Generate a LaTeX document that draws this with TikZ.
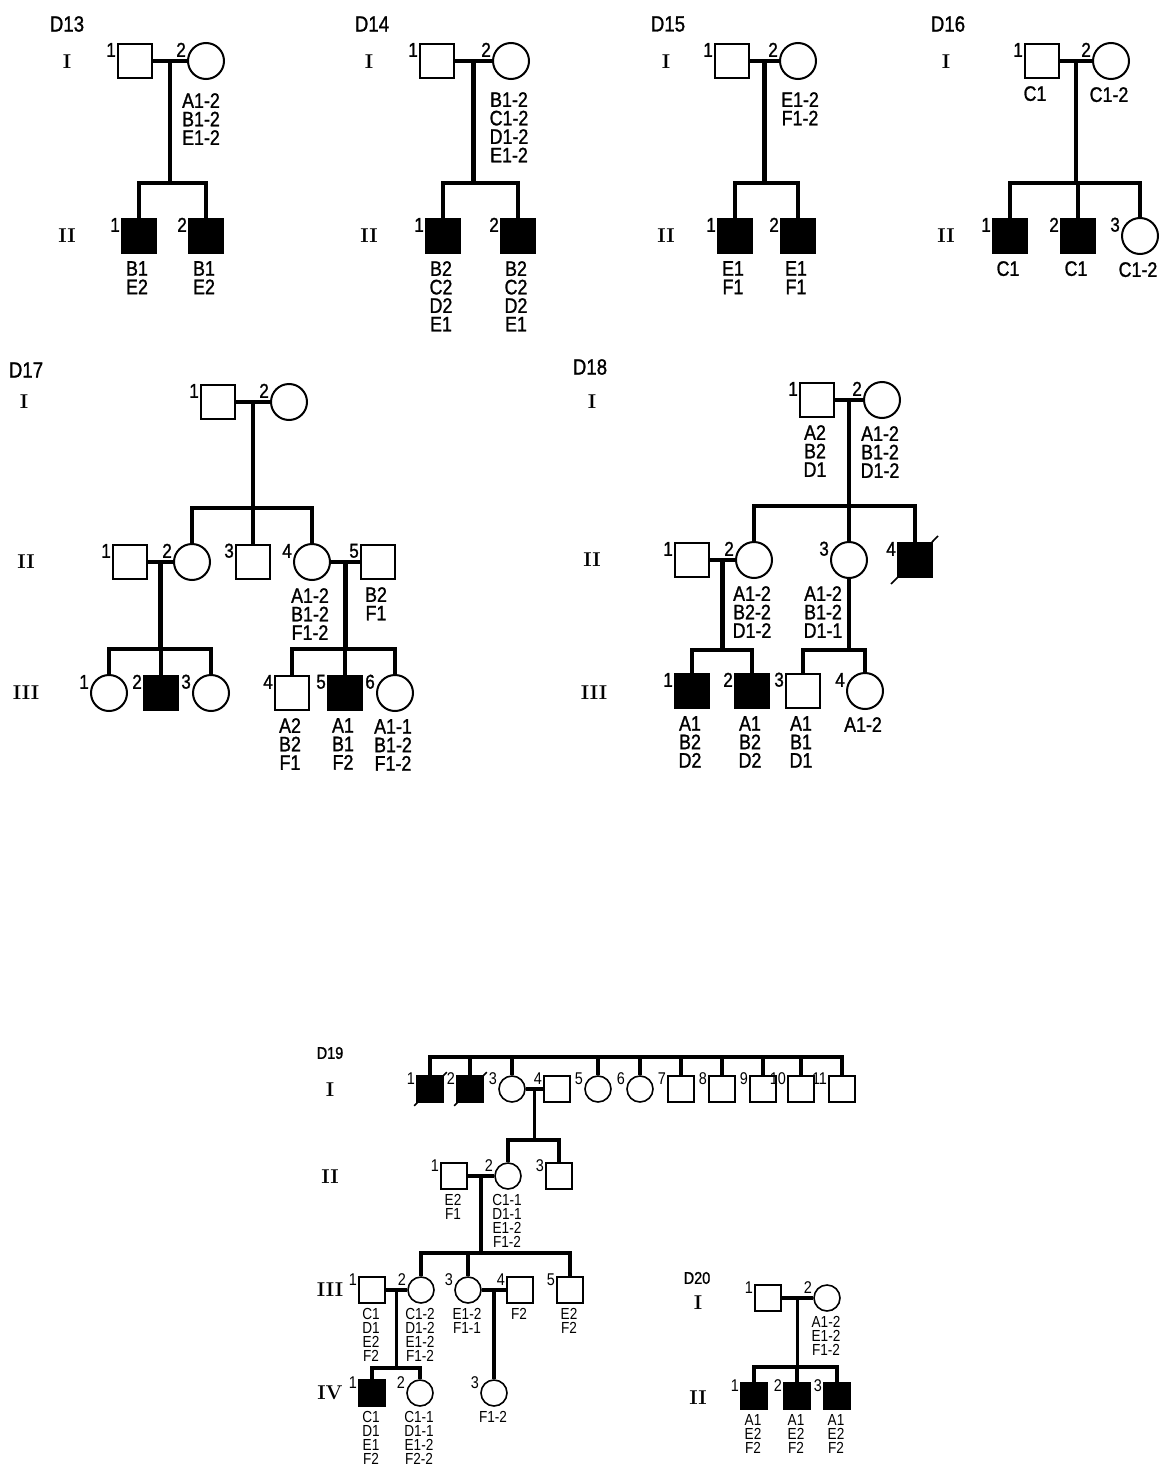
\documentclass[tikz,border=0pt]{standalone}
\usepackage{fontspec}
\usetikzlibrary{calc}
\newfontfamily\gtfont[FakeStretch=0.85,FakeBold=1.2]{Liberation Sans}
\newfontfamily\sgtfont[FakeStretch=0.85]{Liberation Sans}

\begin{document}
\begin{tikzpicture}[x=1pt, y=-1pt,
  ind/.style={draw, line width=2pt, inner sep=0pt, fill=white},
  male/.style={ind, rectangle, minimum size=34pt},
  female/.style={ind, circle, minimum size=36pt},
  aff/.style={fill=black},
  sm/.style={minimum size=26pt, line width=1.6pt},
  rel/.style={line width=4.2pt},
  srel/.style={line width=3.4pt},
  dead/.style={line width=1.6pt},
  num/.style={font=\gtfont\fontsize{20}{20}\selectfont, inner sep=0pt},
  snum/.style={font=\sgtfont\fontsize{17}{17}\selectfont, inner sep=0pt},
  n/.style={label={[num,anchor=south east,xshift=-1pt,yshift=4pt]west:#1}},
  sn/.style={label={[snum,anchor=south east,xshift=-1pt,yshift=4pt]west:#1}},
  gen/.style={font=\gtfont\fontsize{21}{18.5}\selectfont, align=center, inner sep=0pt, label distance=7pt, xshift=-2pt},
  sgen/.style={font=\sgtfont\fontsize{16}{14.2}\selectfont, align=center, inner sep=0pt, label distance=4pt, xshift=-1pt},
  g/.style={label={[gen]below:{#1}}},
  sg/.style={label={[sgen]below:{#1}}},
  title/.style={font=\gtfont\fontsize{22}{22}\selectfont, inner sep=0pt},
  stitle/.style={font=\gtfont\fontsize{17}{17}\selectfont, inner sep=0pt},
  gnr/.style={font=\bfseries\fontsize{20}{20}\selectfont, inner sep=0pt}
]
\useasboundingbox (0,0) rectangle (1159,1469);

% D13
\node[title] (d13) at (67,24) {D13};
\node[gnr] (d13r1) at (67,62) {I};
\node[gnr] (d13r2) at (67,236) {II};
\node[male, n=1] (d13i1) at (135,61) {};
\node[female, n=2, label={[gen,label distance=13pt,xshift=-3pt]below:{A1-2\\B1-2\\E1-2}}] (d13i2) at (206,61) {};
\node[male, aff, n=1, g={B1\\E2}] (d13ii1) at (139,236) {};
\node[male, aff, n=2, g={B1\\E2}] (d13ii2) at (206,236) {};
\coordinate (d13s) at (0,183);
\draw[rel] (d13i1) -- coordinate (d13m) (d13i2);
\draw[rel] (d13m) -- (d13m |- d13s);
\draw[rel] (d13ii1) -- (d13ii1 |- d13s) -- (d13ii2 |- d13s) -- (d13ii2);

% D14
\node[title] (d14) at (372,24) {D14};
\node[gnr] (d14r1) at (369,62) {I};
\node[gnr] (d14r2) at (369,236) {II};
\node[male, n=1] (d14i1) at (437,61) {};
\node[female, n=2, label={[gen,label distance=12pt]below:{B1-2\\C1-2\\D1-2\\E1-2}}] (d14i2) at (511,61) {};
\node[male, aff, n=1, g={B2\\C2\\D2\\E1}] (d14ii1) at (443,236) {};
\node[male, aff, n=2, g={B2\\C2\\D2\\E1}] (d14ii2) at (518,236) {};
\coordinate (d14s) at (0,183);
\draw[rel] (d14i1) -- coordinate (d14m) (d14i2);
\draw[rel] (d14m) -- (d14m |- d14s);
\draw[rel] (d14ii1) -- (d14ii1 |- d14s) -- (d14ii2 |- d14s) -- (d14ii2);

% D15
\node[title] (d15) at (668,24) {D15};
\node[gnr] (d15r1) at (666,62) {I};
\node[gnr] (d15r2) at (666,236) {II};
\node[male, n=1] (d15i1) at (732,61) {};
\node[female, n=2, label={[gen,label distance=12pt,xshift=4pt]below:{E1-2\\F1-2}}] (d15i2) at (798,61) {};
\node[male, aff, n=1, g={E1\\F1}] (d15ii1) at (735,236) {};
\node[male, aff, n=2, g={E1\\F1}] (d15ii2) at (798,236) {};
\coordinate (d15s) at (0,183);
\draw[rel] (d15i1) -- coordinate (d15m) (d15i2);
\draw[rel] (d15m) -- (d15m |- d15s);
\draw[rel] (d15ii1) -- (d15ii1 |- d15s) -- (d15ii2 |- d15s) -- (d15ii2);

% D16
\node[title] (d16) at (948,24) {D16};
\node[gnr] (d16r1) at (946,62) {I};
\node[gnr] (d16r2) at (946,236) {II};
\node[male, n=1, label={[gen,xshift=-5pt]below:{C1}}] (d16i1) at (1042,61) {};
\node[female, n=2, g={C1-2}] (d16i2) at (1111,61) {};
\node[male, aff, n=1, g={C1}] (d16ii1) at (1010,236) {};
\node[male, aff, n=2, g={C1}] (d16ii2) at (1078,236) {};
\node[female, n=3, g={C1-2}] (d16ii3) at (1140,236) {};
\coordinate (d16s) at (0,183);
\draw[rel] (d16i1) -- coordinate (d16m) (d16i2);
\draw[rel] (d16m) -- (d16m |- d16s);
\draw[rel] (d16ii1) -- (d16ii1 |- d16s) -- (d16ii3 |- d16s) -- (d16ii3);
\draw[rel] (d16ii2) -- (d16ii2 |- d16s);

% D17
\node[title] (d17) at (26,370) {D17};
\node[gnr] (d17r1) at (24,402) {I};
\node[gnr] (d17r2) at (26,562) {II};
\node[gnr] (d17r3) at (26,693) {III};
\node[male, n=1] (d17i1) at (218,402) {};
\node[female, n=2] (d17i2) at (289,402) {};
\node[male, n=1] (d17ii1) at (130,562) {};
\node[female, n=2] (d17ii2) at (192,562) {};
\node[male, n=3] (d17ii3) at (253,562) {};
\node[female, n=4, g={A1-2\\B1-2\\F1-2}] (d17ii4) at (312,562) {};
\node[male, n=5, g={B2\\F1}] (d17ii5) at (378,562) {};
\node[female, n=1] (d17iii1) at (109,693) {};
\node[male, aff, n=2] (d17iii2) at (161,693) {};
\node[female, n=3] (d17iii3) at (211,693) {};
\node[male, n=4, g={A2\\B2\\F1}] (d17iii4) at (292,693) {};
\node[male, aff, n=5, g={A1\\B1\\F2}] (d17iii5) at (345,693) {};
\node[female, n=6, g={A1-1\\B1-2\\F1-2}] (d17iii6) at (395,693) {};
\coordinate (d17s2) at (0,508);
\coordinate (d17s3) at (0,649);
\draw[rel] (d17i1) -- coordinate (d17m) (d17i2);
\draw[rel] (d17m) -- (d17m |- d17s2);
\draw[rel] (d17ii2) -- (d17ii2 |- d17s2) -- (d17ii4 |- d17s2) -- (d17ii4);
\draw[rel] (d17ii3) -- (d17ii3 |- d17s2);
\draw[rel] (d17ii1) -- coordinate (d17m12) (d17ii2);
\draw[rel] (d17m12) -- (d17m12 |- d17s3);
\draw[rel] (d17iii1) -- (d17iii1 |- d17s3) -- (d17iii3 |- d17s3) -- (d17iii3);
\draw[rel] (d17iii2) -- (d17iii2 |- d17s3);
\draw[rel] (d17ii4) -- coordinate (d17m45) (d17ii5);
\draw[rel] (d17m45) -- (d17m45 |- d17s3);
\draw[rel] (d17iii4) -- (d17iii4 |- d17s3) -- (d17iii6 |- d17s3) -- (d17iii6);
\draw[rel] (d17iii5) -- (d17iii5 |- d17s3);

% D18
\node[title] (d18) at (590,367) {D18};
\node[gnr] (d18r1) at (592,402) {I};
\node[gnr] (d18r2) at (592,560) {II};
\node[gnr] (d18r3) at (594,693) {III};
\node[male, n=1, g={A2\\B2\\D1}] (d18i1) at (817,400) {};
\node[female, n=2, g={A1-2\\B1-2\\D1-2}] (d18i2) at (882,400) {};
\node[male, n=1] (d18ii1) at (692,560) {};
\node[female, n=2, g={A1-2\\B2-2\\D1-2}] (d18ii2) at (754,560) {};
\node[female, n=3, label={[gen,xshift=-24pt]below:{A1-2\\B1-2\\D1-1}}] (d18ii3) at (849,560) {};
\node[male, aff, n=4] (d18ii4) at (915,560) {};
\node[male, aff, n=1, g={A1\\B2\\D2}] (d18iii1) at (692,691) {};
\node[male, aff, n=2, g={A1\\B2\\D2}] (d18iii2) at (752,691) {};
\node[male, n=3, g={A1\\B1\\D1}] (d18iii3) at (803,691) {};
\node[female, n=4, g={A1-2}] (d18iii4) at (865,691) {};
\coordinate (d18s2) at (0,506);
\coordinate (d18s3) at (0,650);
\draw[rel] (d18i1) -- coordinate (d18m) (d18i2);
\draw[rel] (d18m) -- (d18m |- d18s2);
\draw[rel] (d18ii2) -- (d18ii2 |- d18s2) -- (d18ii4 |- d18s2) -- (d18ii4);
\draw[rel] (d18ii3) -- (d18ii3 |- d18s2);
\draw[dead] ([shift={(-6,6)}]d18ii4.south west) -- ([shift={(5,-6)}]d18ii4.north east);
\draw[rel] (d18ii1) -- coordinate (d18m12) (d18ii2);
\draw[rel] (d18m12) -- (d18m12 |- d18s3);
\draw[rel] (d18iii1) -- (d18iii1 |- d18s3) -- (d18iii2 |- d18s3) -- (d18iii2);
\draw[rel] (d18ii3) -- (d18ii3 |- d18s3);
\draw[rel] (d18iii3) -- (d18iii3 |- d18s3) -- (d18iii4 |- d18s3) -- (d18iii4);

% D19
\node[stitle] (d19) at (330,1053) {D19};
\node[gnr] (d19r1) at (330,1090) {I};
\node[gnr] (d19r2) at (330,1177) {II};
\node[gnr] (d19r3) at (330,1290) {III};
\node[gnr] (d19r4) at (330,1393) {IV};
\node[male, sm, aff, sn=1] (d19i1) at (430,1089) {};
\node[male, sm, aff, sn=2] (d19i2) at (470,1089) {};
\node[female, sm, sn=3] (d19i3) at (512,1089) {};
\node[male, sm, sn=4] (d19i4) at (557,1089) {};
\node[female, sm, sn=5] (d19i5) at (598,1089) {};
\node[female, sm, sn=6] (d19i6) at (640,1089) {};
\node[male, sm, sn=7] (d19i7) at (681,1089) {};
\node[male, sm, sn=8] (d19i8) at (722,1089) {};
\node[male, sm, sn=9] (d19i9) at (763,1089) {};
\node[male, sm, sn=10] (d19i10) at (801,1089) {};
\node[male, sm, sn=11] (d19i11) at (842,1089) {};
\node[male, sm, sn=1, sg={E2\\F1}] (d19ii1) at (454,1176) {};
\node[female, sm, sn=2, sg={C1-1\\D1-1\\E1-2\\F1-2}] (d19ii2) at (508,1176) {};
\node[male, sm, sn=3] (d19ii3) at (559,1176) {};
\node[male, sm, sn=1, sg={C1\\D1\\E2\\F2}] (d19iii1) at (372,1290) {};
\node[female, sm, sn=2, sg={C1-2\\D1-2\\E1-2\\F1-2}] (d19iii2) at (421,1290) {};
\node[female, sm, sn=3, sg={E1-2\\F1-1}] (d19iii3) at (468,1290) {};
\node[male, sm, sn=4, sg={F2}] (d19iii4) at (520,1290) {};
\node[male, sm, sn=5, sg={E2\\F2}] (d19iii5) at (570,1290) {};
\node[male, sm, aff, sn=1, sg={C1\\D1\\E1\\F2}] (d19iv1) at (372,1393) {};
\node[female, sm, sn=2, sg={C1-1\\D1-1\\E1-2\\F2-2}] (d19iv2) at (420,1393) {};
\coordinate (d19s1) at (0,1057);
\coordinate (d19s2) at (0,1140);
\coordinate (d19s3) at (0,1253);
\coordinate (d19s4) at (0,1368);
\coordinate (d19y4) at (0,1393);
\draw[srel] (d19i1) -- (d19i1 |- d19s1) -- (d19i11 |- d19s1) -- (d19i11);
\foreach \k in {2,3,5,6,7,8,9,10}
  \draw[srel] (d19i\k) -- (d19i\k |- d19s1);
\draw[dead] ([shift={(-2,3)}]d19i1.south west) -- ([shift={(3,-3)}]d19i1.north east);
\draw[dead] ([shift={(-2,3)}]d19i2.south west) -- ([shift={(3,-3)}]d19i2.north east);
\draw[srel] (d19i3) -- coordinate (d19m) (d19i4);
\draw[srel] (d19m) -- (d19m |- d19s2);
\draw[srel] (d19ii2) -- (d19ii2 |- d19s2) -- (d19ii3 |- d19s2) -- (d19ii3);
\draw[srel] (d19ii1) -- coordinate (d19m12) (d19ii2);
\draw[srel] (d19m12) -- (d19m12 |- d19s3);
\draw[srel] (d19iii2) -- (d19iii2 |- d19s3) -- (d19iii5 |- d19s3) -- (d19iii5);
\draw[srel] (d19iii3) -- (d19iii3 |- d19s3);
\draw[srel] (d19iii1) -- coordinate (d19m3) (d19iii2);
\draw[srel] (d19m3) -- (d19m3 |- d19s4);
\draw[srel] (d19iv1) -- (d19iv1 |- d19s4) -- (d19iv2 |- d19s4) -- (d19iv2);
\draw[srel] (d19iii3) -- coordinate (d19m34) (d19iii4);
\node[female, sm, sn=3, sg={F1-2}] (d19iv3) at (d19m34 |- d19y4) {};
\draw[srel] (d19m34) -- (d19iv3);

% D20
\node[stitle] (d20) at (697,1278) {D20};
\node[gnr] (d20r1) at (698,1303) {I};
\node[gnr] (d20r2) at (698,1398) {II};
\node[male, sm, sn=1] (d20i1) at (768,1298) {};
\node[female, sm, sn=2, sg={A1-2\\E1-2\\F1-2}] (d20i2) at (827,1298) {};
\node[male, sm, aff, sn=1, sg={A1\\E2\\F2}] (d20ii1) at (754,1396) {};
\node[male, sm, aff, sn=2, sg={A1\\E2\\F2}] (d20ii2) at (797,1396) {};
\node[male, sm, aff, sn=3, sg={A1\\E2\\F2}] (d20ii3) at (837,1396) {};
\coordinate (d20s) at (0,1367);
\draw[srel] (d20i1) -- coordinate (d20m) (d20i2);
\draw[srel] (d20m) -- (d20m |- d20s);
\draw[srel] (d20ii1) -- (d20ii1 |- d20s) -- (d20ii3 |- d20s) -- (d20ii3);
\draw[srel] (d20ii2) -- (d20ii2 |- d20s);
\end{tikzpicture}
\end{document}
